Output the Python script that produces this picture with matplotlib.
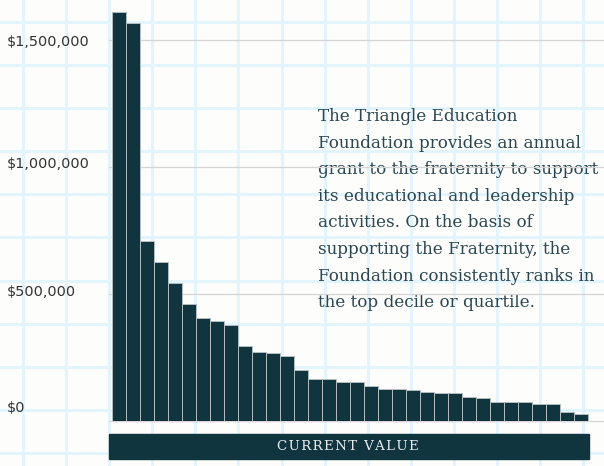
import matplotlib
matplotlib.use('Agg')
import matplotlib.pyplot as plt
from matplotlib.patches import Rectangle
from matplotlib.transforms import ScaledTranslation
import numpy as np

# ---- data ----
values = [1610000, 1567000, 710000, 627000, 542000, 459000, 404000, 395000,
          377000, 295000, 272000, 266000, 255000, 201000, 164000, 164000,
          155000, 152000, 138000, 127000, 125000, 123000, 114000, 111000,
          109000, 96000, 89000, 74000, 74000, 74000, 68000, 66000, 35000, 29000]
tick_values = [0, 500000, 1000000, 1500000]
tick_labels = [r'\$0', r'\$500,000', r'\$1,000,000', r'\$1,500,000']
label_offsets_px = [15, 3, 4, 0]
note_lines = ["The Triangle Education",
              "Foundation provides an annual",
              "grant to the fraternity to support",
              "its educational and leadership",
              "activities. On the basis of",
              "supporting the Fraternity, the",
              "Foundation consistently ranks in",
              "the top decile or quartile."]
xlabel = "CURRENT VALUE"

W, H, DPI = 604, 466, 100
BAR = '#11353f'
fig = plt.figure(figsize=(W / DPI, H / DPI), dpi=DPI)
fig.patch.set_facecolor('#fdfdfc')

# graph-paper background
bg = fig.add_axes([0, 0, 1, 1])
bg.set_xlim(0, W)
bg.set_ylim(H, 0)
bg.axis('off')
for gx in np.arange(23, W, 43.1):
    bg.axvline(gx, color='#e3f5fc', lw=2.2, zorder=0)
for gy in np.arange(22, H, 43.1):
    bg.axhline(gy, color='#e3f5fc', lw=2.2, zorder=0)

# banner
bg.add_patch(Rectangle((109, 434), 480, 25, color=BAR, zorder=2))
bg.text(348, 446.5, '\u200a'.join(xlabel),
        ha='center', va='center', family='DejaVu Serif', fontsize=9.6,
        color='#e8eef0', zorder=3)

# note text
for i, line in enumerate(note_lines):
    bg.text(318, 121 + i * 26.6, line, ha='left', va='baseline',
            family='DejaVu Serif', fontsize=12.1, color='#2a4651', zorder=3)

# bar axes
ax = fig.add_axes([109 / W, (H - 421) / H, 480 / W, 421 / H])
ax.patch.set_alpha(0)
x = np.arange(len(values))
ax.bar(x, values, width=1, color=BAR, edgecolor='#b4bec1', linewidth=0.7, zorder=3)
ax.set_xlim(-0.5 - 3 / 14, len(values) - 0.5 + 1 / 14)
ax.set_ylim(0, 421 / 254 * 1e6)
for v in tick_values:
    ax.axhline(v, xmin=0, xmax=(W - 109) / 480, color='#d4d4d4', lw=0.9,
               clip_on=False, zorder=1)
for s in ax.spines.values():
    s.set_visible(False)
ax.set_xticks([])
ax.set_yticks(tick_values)
ax.set_yticklabels(tick_labels, ha='left', fontsize=10.4, color='#333333',
                   family='DejaVu Sans')
ax.tick_params(axis='y', length=0, pad=(109 - 7) * 72 / DPI)
for lbl, dy in zip(ax.get_yticklabels(), label_offsets_px):
    lbl.set_transform(lbl.get_transform() + ScaledTranslation(0, dy / DPI, fig.dpi_scale_trans))

fig.savefig('out.png', dpi=DPI, facecolor=fig.get_facecolor())
